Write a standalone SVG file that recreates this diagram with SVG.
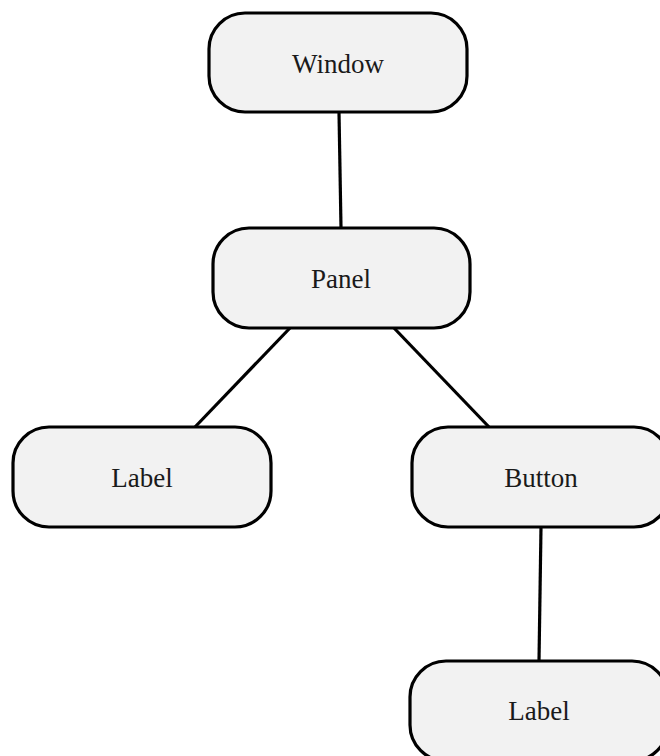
<svg xmlns="http://www.w3.org/2000/svg" width="660" height="756" viewBox="0 0 660 756">
<style>
.node rect{fill:#f2f2f2;stroke:#000;stroke-width:3.2}
.node text{font-family:"Liberation Serif","Times New Roman",serif;font-size:27px;fill:#1a1a1a;text-anchor:middle}
#edges line{stroke:#000;stroke-width:3.2;stroke-linecap:butt}
</style>
<rect width="660" height="756" fill="#fff"/>
<g id="edges">
<line x1="339" y1="112" x2="341" y2="228"/>
<line x1="290" y1="328" x2="195" y2="427"/>
<line x1="394" y1="328" x2="489" y2="427"/>
<line x1="541" y1="527" x2="539" y2="661"/>
</g>
<g id="window" class="node"><rect x="209" y="13" width="258" height="99" rx="36"/><text x="338" y="73">Window</text></g>
<g id="panel" class="node"><rect x="213" y="228" width="257" height="100" rx="36"/><text x="341" y="288">Panel</text></g>
<g id="label1" class="node"><rect x="13" y="427" width="258" height="100" rx="36"/><text x="142" y="487">Label</text></g>
<g id="button" class="node"><rect x="412" y="427" width="258" height="100" rx="36"/><text x="541" y="487">Button</text></g>
<g id="label2" class="node"><rect x="410" y="661" width="258" height="100" rx="36"/><text x="539" y="720">Label</text></g>
</svg>
